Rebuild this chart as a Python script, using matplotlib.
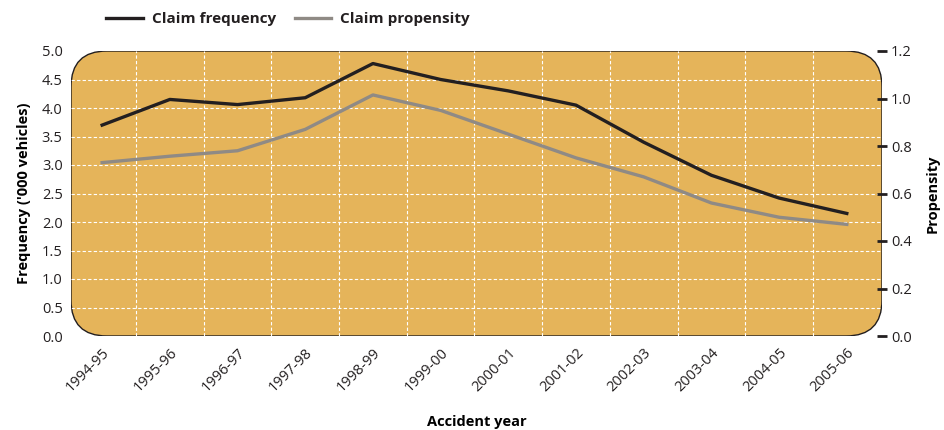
import matplotlib.pyplot as plt
from matplotlib.patches import FancyBboxPatch
import numpy as np

years = ["1994-95", "1995-96", "1996-97", "1997-98", "1998-99", "1999-00",
         "2000-01", "2001-02", "2002-03", "2003-04", "2004-05", "2005-06"]
frequency = [3.70, 4.15, 4.06, 4.18, 4.78, 4.50, 4.30, 4.05, 3.40, 2.82, 2.42, 2.15]
propensity = [0.73, 0.757, 0.78, 0.87, 1.015, 0.95, 0.85, 0.75, 0.67, 0.56, 0.50, 0.47]

DARK = "#231F20"
GREY = "#8F8A85"
GOLD = "#E5B45A"

plt.rcParams["font.family"] = ["Open Sans", "DejaVu Sans"]
plt.rcParams["text.color"] = DARK

fig = plt.figure(figsize=(9.45, 4.3), dpi=100)
ax = fig.add_axes([71 / 945, 94 / 430, 811 / 945, 285 / 430])
ax.set_facecolor("none")
for s in ax.spines.values():
    s.set_visible(False)

# rounded background
w_px, h_px = 811, 285
bg = FancyBboxPatch((0, 0), 1, 1, boxstyle="round,pad=0,rounding_size=%f" % (36 / w_px),
                    mutation_aspect=w_px / h_px, transform=ax.transAxes,
                    facecolor=GOLD, edgecolor=DARK, linewidth=1.0, zorder=0)
ax.add_patch(bg)

x = np.arange(len(years))
ax.set_xlim(-0.46, len(years) - 1 + 0.52)
ax.set_ylim(0, 5)
ax.set_yticks(np.arange(0, 5.01, 0.5))
ax.set_yticklabels([f"{v:.1f}" for v in np.arange(0, 5.01, 0.5)])
ax.set_xticks(x)
ax.set_xticklabels(years, rotation=45, ha="right", va="top", rotation_mode="anchor")
ax.tick_params(axis="both", length=0, labelsize=10.5, colors=DARK)
ax.tick_params(axis="y", pad=6)
ax.tick_params(axis="x", pad=7)

# grid lines
for yv in np.arange(0.5, 5.0, 0.5):
    gl = ax.axhline(yv, color="white", lw=0.8, ls=(0, (3, 2)), zorder=1)
    gl.set_clip_path(bg)
for xv in x[:-1] + 0.5:
    gl = ax.axvline(xv, color="white", lw=0.8, ls=(0, (3, 2)), zorder=1)
    gl.set_clip_path(bg)

l1, = ax.plot(x, frequency, color=DARK, lw=2.4, zorder=3, label="Claim frequency")

ax2 = ax.twinx()
for s in ax2.spines.values():
    s.set_visible(False)
ax2.set_ylim(0, 1.2)
ax2.set_yticks(np.arange(0, 1.21, 0.2))
ax2.set_yticklabels([f"{v:.1f}" for v in np.arange(0, 1.21, 0.2)])
ax2.tick_params(axis="y", direction="inout", length=7, width=2, colors=DARK,
                labelsize=10.5, pad=3)
l2, = ax2.plot(x, propensity, color=GREY, lw=2.4, zorder=3, label="Claim propensity")
ax.set_zorder(ax2.get_zorder() - 1)

ax.set_ylabel("Frequency ('000 vehicles)", fontsize=10.5, fontweight="bold", labelpad=8)
ax2.set_ylabel("Propensity", fontsize=10.5, fontweight="bold", labelpad=10)
ax.set_xlabel("Accident year", fontsize=10.5, fontweight="bold", labelpad=14)

fig.legend(handles=[l1, l2], loc="upper center", bbox_to_anchor=(0.305, 1.003), ncol=2,
           frameon=False, prop={"weight": "bold", "size": 11}, handlelength=2.4,
           columnspacing=1.2, handletextpad=0.6)

fig.savefig("out.png", dpi=100)
